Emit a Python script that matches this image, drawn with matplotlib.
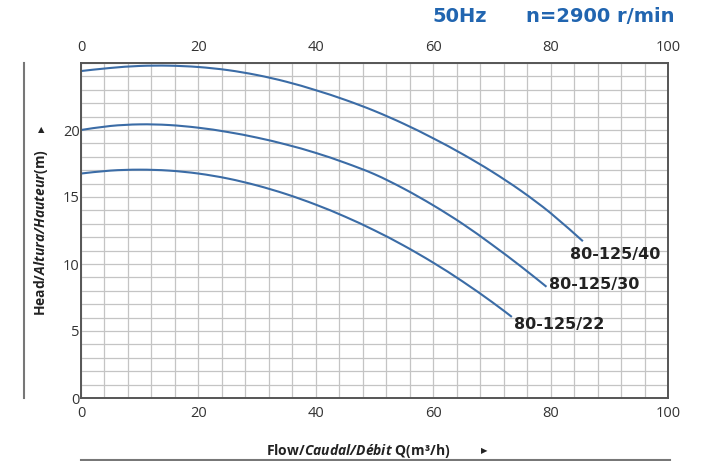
import matplotlib
matplotlib.use("Agg")
import matplotlib.pyplot as plt
from matplotlib.ticker import MultipleLocator
from matplotlib.lines import Line2D
from matplotlib.path import Path
from matplotlib.patches import PathPatch

# pump curves: flow Q (m3/h) and head H (m)
q40 = [0, 5, 10, 15, 20, 25, 30, 35, 40, 45, 50, 55, 60, 65, 70, 75, 80, 85.5]
h40 = [24.4, 24.63, 24.78, 24.8, 24.7, 24.47, 24.1, 23.6, 22.97, 22.25, 21.42,
       20.46, 19.38, 18.2, 16.9, 15.45, 13.8, 11.7]

q30 = [0, 5, 10, 15, 20, 25, 30, 35, 40, 45, 50, 55, 60, 65, 70, 75, 79.3]
h30 = [20.0, 20.3, 20.42, 20.37, 20.17, 19.85, 19.43, 18.91, 18.29, 17.55,
       16.7, 15.62, 14.38, 13.0, 11.45, 9.8, 8.3]

q22 = [0, 5, 10, 15, 20, 25, 30, 35, 40, 45, 50, 55, 60, 65, 70, 73.4]
h22 = [16.75, 16.97, 17.04, 16.97, 16.75, 16.38, 15.86, 15.21, 14.43, 13.53,
       12.51, 11.37, 10.1, 8.7, 7.17, 6.05]

curve_names = ["80-125/40", "80-125/30", "80-125/22"]
x_ticks = [0, 20, 40, 60, 80, 100]
y_ticks = [0, 5, 10, 15, 20]

plt.rcParams['mathtext.fontset'] = 'custom'
plt.rcParams['mathtext.rm'] = 'Open Sans'
plt.rcParams['mathtext.bf'] = 'Open Sans:bold'
plt.rcParams['mathtext.it'] = 'Open Sans:italic'
plt.rcParams['mathtext.bfit'] = 'Open Sans:italic:bold'


def smooth_path(xs, ys):
    # bezier through the read points (catmull-rom style handles)
    pts = list(zip(xs, ys))
    verts = [pts[0]]
    codes = [Path.MOVETO]
    n = len(pts)
    for i in range(n - 1):
        p0 = pts[i - 1] if i > 0 else pts[i]
        p1 = pts[i]
        p2 = pts[i + 1]
        p3 = pts[i + 2] if i + 2 < n else pts[i + 1]
        c1 = (p1[0] + (p2[0] - p0[0]) / 6, p1[1] + (p2[1] - p0[1]) / 6)
        c2 = (p2[0] - (p3[0] - p1[0]) / 6, p2[1] - (p3[1] - p1[1]) / 6)
        verts += [c1, c2, p2]
        codes += [Path.CURVE4] * 3
    return Path(verts, codes)


W, H = 712, 461
fig = plt.figure(figsize=(W / 100, H / 100), dpi=100)
ax = fig.add_axes([81 / W, 1 - 398 / H, (668 - 81) / W, (398 - 63) / H])

blue = '#3b6ca6'
for qs, hs in [(q40, h40), (q30, h30), (q22, h22)]:
    ax.add_patch(PathPatch(smooth_path(qs, hs), facecolor='none',
                           edgecolor=blue, lw=1.5))

ax.set_xlim(0, 100)
ax.set_ylim(0, 25)
ax.set_xticks(x_ticks)
ax.set_yticks(y_ticks)
ax.xaxis.set_minor_locator(MultipleLocator(4))
ax.yaxis.set_minor_locator(MultipleLocator(1))
ax.grid(which='both', color='#c4c4c4', lw=0.9)
ax.set_axisbelow(True)
ax.tick_params(which='both', length=0)
ax.tick_params(axis='x', labeltop=True, pad=6, labelsize=10.5, labelcolor='#333333')
ax.tick_params(axis='y', pad=1, labelsize=10.5, labelcolor='#333333')
for lab in ax.get_xticklabels() + ax.get_yticklabels():
    lab.set_family('Open Sans')
for s in ax.spines.values():
    s.set_color('#555555')
    s.set_linewidth(1.4)

# curve names
lab_pos = [(83.3, 10.7), (79.7, 8.5), (73.8, 5.5)]
for name, (lx, ly) in zip(curve_names, lab_pos):
    ax.text(lx, ly, name, ha='left', va='center', fontsize=11.5,
            fontweight='bold', family='DejaVu Sans', color='#222222')

# header
fig.text(432 / W, 1 - 17 / H, "50Hz", color='#2165b0', fontsize=14,
         fontweight='bold', family='DejaVu Sans', va='center')
fig.text(526 / W, 1 - 17 / H, "n=2900 r/min", color='#2165b0', fontsize=14,
         fontweight='bold', family='DejaVu Sans', va='center')

# axis titles
fig.text(358 / W, 1 - 451 / H,
         r"$\mathbf{Flow/}\mathbfit{Caudal/Débit}\ \mathbf{Q(m³/h)}$",
         ha='center', va='center', fontsize=10, color='#222222')
fig.text(484 / W, 1 - 451 / H, "▶", ha='center', va='center', fontsize=6,
         family='DejaVu Sans', color='#222222')
fig.text(41 / W, 1 - 233 / H,
         r"$\mathbf{Head/}\mathbfit{Altura/Hauteur}\mathbf{(m)}$",
         ha='center', va='center', rotation=90, fontsize=10, color='#222222')
fig.text(41 / W, 1 - 130 / H, "▲", ha='center', va='center', fontsize=6,
         family='DejaVu Sans', color='#222222')

# frame lines outside the plot
fig.add_artist(Line2D([24 / W, 24 / W], [1 - 63 / H, 1 - 398 / H],
                      color='#777777', lw=1.5))
fig.add_artist(Line2D([81 / W, 670 / W], [1 - 459.5 / H, 1 - 459.5 / H],
                      color='#777777', lw=1.5))

fig.savefig('out.png', dpi=100)
